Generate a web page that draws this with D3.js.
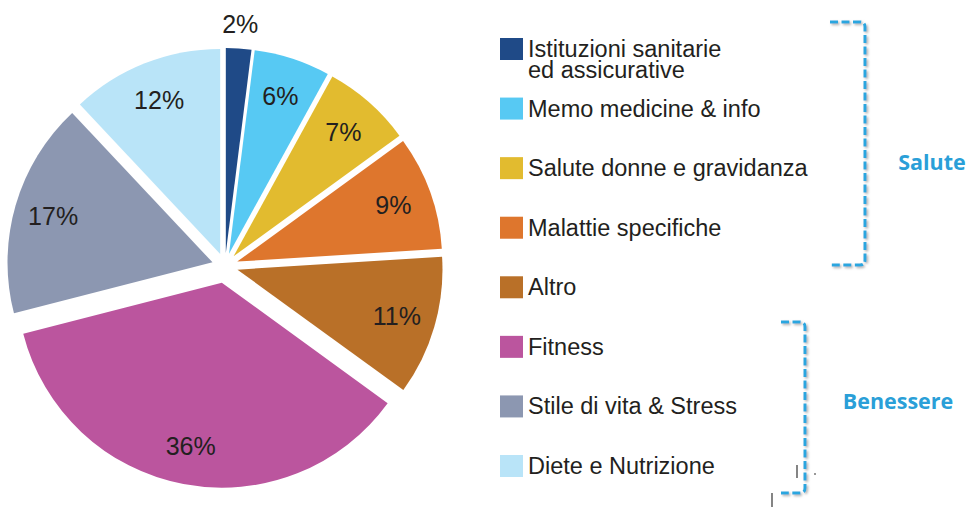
<!DOCTYPE html>
<html>
<head>
<meta charset="utf-8">
<script src="https://cdn.jsdelivr.net/npm/d3@7"></script>
<style>
  body { margin: 0; background: #fff; }
  svg { display: block; }
</style>
</head>
<body>
<script>
var w = 968;
var h = 507;

// data
var categories = ["Istituzioni sanitarie\ned assicurative", "Memo medicine & info",
    "Salute donne e gravidanza", "Malattie specifiche", "Altro", "Fitness",
    "Stile di vita & Stress", "Diete e Nutrizione"];
var values = [2, 6, 7, 9, 11, 36, 17, 12];
var colors = ["#1f4a87", "#57c9f3", "#e2bb2f", "#de762d", "#b97028", "#bb559e", "#8c97b1", "#b9e4f8"];
var groups = ["Salute", "Benessere"];

var cx = 225, cy = 266;
var radius = 205;

var svg = d3.select("body").append("svg")
    .attr("width", w)
    .attr("height", h);

// soft grey shadow under the dashed brackets
var defs = svg.append("defs");
defs.append("filter").attr("id", "shadow")
    .attr("x", "-50%").attr("y", "-10%").attr("width", "200%").attr("height", "120%")
  .append("feDropShadow")
    .attr("dx", 1.5).attr("dy", 1.5).attr("stdDeviation", 1.2)
    .attr("flood-color", "#999").attr("flood-opacity", 0.8);

var pie = d3.pie().sort(null).value(function (d) { return d; });
var arcs = pie(values);

var arc = d3.arc().innerRadius(0).outerRadius(radius);

// how far each slice is pulled out from the centre
function explode(i) {
    return categories[i] === "Fitness" ? 17 : 13;
}
function midDir(d) {
    var a = (d.startAngle + d.endAngle) / 2;
    return [Math.sin(a), -Math.cos(a)];
}

var slices = svg.append("g")
    .attr("transform", "translate(" + cx + "," + cy + ")");

slices.selectAll("path")
    .data(arcs)
    .enter()
    .append("path")
    .attr("d", arc)
    .attr("fill", function (d, i) { return colors[i]; })
    .attr("transform", function (d, i) {
        var m = midDir(d), e = explode(i);
        return "translate(" + m[0] * e + "," + m[1] * e + ")";
    });

// percentage labels (the tiny 2% slice gets its label outside)
function labelR(d) {
    return d.data < 4 ? 229 : 166;
}
slices.selectAll("text")
    .data(arcs)
    .enter()
    .append("text")
    .attr("x", function (d, i) { return midDir(d)[0] * (labelR(d) + explode(i)); })
    .attr("y", function (d, i) { return midDir(d)[1] * (labelR(d) + explode(i)); })
    .attr("dy", "0.36em")
    .attr("text-anchor", "middle")
    .attr("font-family", "Liberation Sans, Arial, sans-serif")
    .attr("font-size", 25)
    .attr("fill", "#231f20")
    .text(function (d) { return d.data + "%"; });

// legend
var legendY = d3.scalePoint()
    .domain(d3.range(categories.length))
    .range([38, 455]);

var legend = svg.append("g");
var items = legend.selectAll("g")
    .data(categories)
    .enter()
    .append("g")
    .attr("transform", function (d, i) { return "translate(500," + legendY(i) + ")"; });

items.append("rect")
    .attr("width", 23)
    .attr("height", 22)
    .attr("fill", function (d, i) { return colors[i]; });

items.append("text")
    .attr("x", 28)
    .attr("y", 19)
    .attr("font-family", "Liberation Sans, Arial, sans-serif")
    .attr("font-size", 23.5)
    .attr("fill", "#231f20")
    .selectAll("tspan")
    .data(function (d) { return d.split("\n"); })
    .enter()
    .append("tspan")
    .attr("x", 28)
    .attr("dy", function (d, i) { return i === 0 ? 0 : 21; })
    .text(function (d) { return d; });

// dashed brackets for the two groups
function bracket(x0, x1, y0, y1) {
    var r = 5;
    return "M" + x0 + "," + y0 + "H" + (x1 - r) + "Q" + x1 + "," + y0 + " " + x1 + "," + (y0 + r) +
        "V" + (y1 - r) + "Q" + x1 + "," + y1 + " " + (x1 - r) + "," + y1 + "H" + x0;
}

var brackets = [
    { x0: 830, x1: 865, y0: 22, y1: 265, tx: 932, ty: 170 },
    { x0: 781, x1: 805, y0: 322, y1: 493, tx: 898, ty: 409 }
];

svg.selectAll("path.bracket")
    .data(brackets)
    .enter()
    .append("path")
    .attr("class", "bracket")
    .attr("d", function (d) { return bracket(d.x0, d.x1, d.y0, d.y1); })
    .attr("fill", "none")
    .attr("stroke", "#29a6df")
    .attr("stroke-width", 3)
    .attr("stroke-dasharray", "8,3.5")
    .attr("filter", "url(#shadow)");

svg.selectAll("text.group")
    .data(brackets)
    .enter()
    .append("text")
    .attr("class", "group")
    .attr("x", function (d) { return d.tx; })
    .attr("y", function (d) { return d.ty; })
    .attr("text-anchor", "middle")
    .attr("font-family", "Open Sans, sans-serif")
    .attr("font-weight", "bold")
    .attr("font-size", 21.5)
    .attr("fill", "#2a9fd8")
    .text(function (d, i) { return groups[i]; });

// small stray marks from the original scan
svg.append("line").attr("x1", 797).attr("x2", 797).attr("y1", 465).attr("y2", 478)
    .attr("stroke", "#333").attr("stroke-width", 1.2);
svg.append("line").attr("x1", 814).attr("x2", 816).attr("y1", 474).attr("y2", 474)
    .attr("stroke", "#333").attr("stroke-width", 1);
svg.append("line").attr("x1", 772).attr("x2", 772).attr("y1", 493).attr("y2", 507)
    .attr("stroke", "#333").attr("stroke-width", 1.2);
</script>
</body>
</html>
